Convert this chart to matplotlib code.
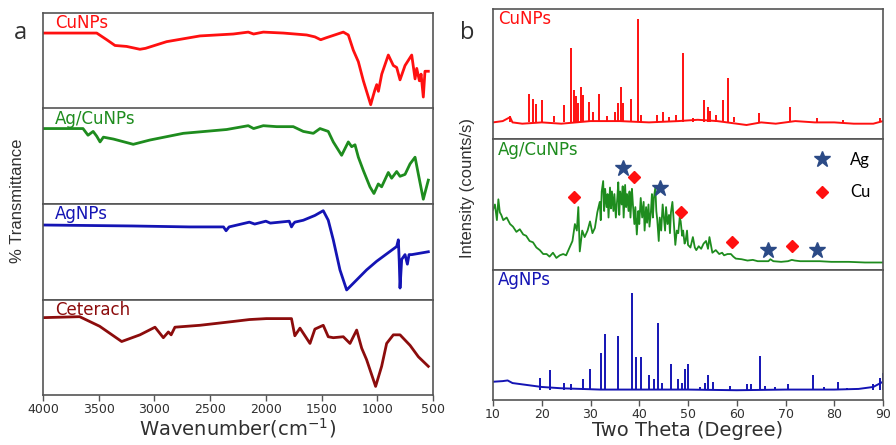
import matplotlib
matplotlib.use("Agg")
import matplotlib.pyplot as plt
from matplotlib.lines import Line2D

plt.rcParams["font.family"] = ["DejaVu Sans"]

# ---- FTIR (panel a): wavenumber / relative transmittance per sub-panel ----
cu_ftir_w = [4000, 3518, 3428, 3354, 3250, 3130, 3080, 2890, 2591, 2292, 2158, 2110, 2023,
             1843, 1634, 1560, 1508, 1460, 1305, 1260, 1215, 1170, 1125, 1059, 1040, 1020,
             1005, 990, 960, 901, 856, 826, 796, 751, 691, 661, 646, 622, 607, 587, 572, 542]
cu_ftir_t = [0.79, 0.79, 0.72, 0.66, 0.65, 0.62, 0.63, 0.70, 0.76, 0.78, 0.80, 0.78, 0.80,
             0.79, 0.77, 0.75, 0.72, 0.74, 0.80, 0.77, 0.61, 0.49, 0.29, 0.04, 0.12, 0.20,
             0.25, 0.18, 0.36, 0.56, 0.45, 0.43, 0.30, 0.45, 0.56, 0.31, 0.42, 0.29, 0.36,
             0.12, 0.39, 0.39]

agcu_ftir_w = [4000, 3641, 3596, 3550, 3518, 3488, 3458, 3368, 3190, 3040, 2741, 2352, 2158,
               2110, 2023, 1903, 1754, 1664, 1574, 1514, 1440, 1395, 1320, 1260, 1230, 1200,
               1170, 1125, 1066, 1030, 991, 961, 901, 871, 826, 796, 751, 706, 661, 631, 587, 542]
agcu_ftir_t = [0.79, 0.79, 0.72, 0.76, 0.71, 0.65, 0.70, 0.68, 0.625, 0.67, 0.74, 0.78, 0.82,
               0.79, 0.82, 0.81, 0.81, 0.76, 0.74, 0.79, 0.76, 0.65, 0.51, 0.65, 0.60, 0.62,
               0.49, 0.35, 0.18, 0.11, 0.21, 0.18, 0.33, 0.27, 0.34, 0.29, 0.31, 0.42, 0.49,
               0.31, 0.05, 0.25]

ag_ftir_w = [4000, 3200, 2685, 2380, 2357, 2330, 2148, 2100, 2000, 1960, 1790, 1770, 1755,
             1740, 1664, 1560, 1485, 1440, 1395, 1335, 1275, 1215, 1096, 1006, 826, 811,
             803, 796, 781, 751, 730, 715, 690, 542]
ag_ftir_t = [0.78, 0.77, 0.76, 0.76, 0.72, 0.76, 0.81, 0.79, 0.82, 0.80, 0.82, 0.76, 0.79,
             0.81, 0.83, 0.88, 0.93, 0.83, 0.625, 0.31, 0.10, 0.17, 0.31, 0.40, 0.555, 0.625,
             0.40, 0.12, 0.42, 0.47, 0.37, 0.47, 0.47, 0.50]

cet_ftir_w = [4000, 3671, 3492, 3294, 3130, 2995, 2920, 2875, 2850, 2816, 2591, 2292, 2148,
              1995, 1770, 1740, 1694, 1604, 1560, 1485, 1440, 1395, 1305, 1245, 1185, 1140,
              1096, 1015, 961, 916, 856, 796, 706, 631, 542]
cet_ftir_t = [0.81, 0.82, 0.72, 0.56, 0.63, 0.71, 0.60, 0.66, 0.63, 0.71, 0.73, 0.77, 0.79,
              0.80, 0.80, 0.62, 0.70, 0.54, 0.69, 0.73, 0.61, 0.60, 0.61, 0.54, 0.68, 0.49,
              0.37, 0.09, 0.30, 0.54, 0.63, 0.63, 0.52, 0.40, 0.30]

# ---- XRD (panel b): two theta / relative intensity per sub-panel ----
cu_xrd_base_x = [10, 12, 13.5, 14, 16, 20, 24, 30, 36, 42, 48, 52, 56, 60, 62, 65, 68, 72, 76, 80, 84, 88, 90]
cu_xrd_base_y = [0.13, 0.14, 0.17, 0.13, 0.12, 0.13, 0.12, 0.14, 0.14, 0.13, 0.14, 0.15, 0.14, 0.12,
                 0.11, 0.13, 0.12, 0.14, 0.13, 0.13, 0.12, 0.12, 0.14]
cu_peak_x = [13.5, 17.4, 18.3, 18.8, 20.0, 22.5, 24.6, 26.1, 26.6, 27.0, 27.5, 28.0, 28.5, 29.7,
             30.5, 31.8, 33.3, 35.0, 35.7, 36.2, 36.7, 38.4, 39.8, 40.4, 43.6, 44.8, 46.1, 47.5,
             49.0, 51.0, 53.3, 54.1, 54.6, 55.8, 57.2, 58.3, 59.4, 64.6, 70.9, 76.4, 81.8, 89.3]
cu_peak_y = [0.18, 0.35, 0.31, 0.27, 0.30, 0.18, 0.26, 0.70, 0.38, 0.33, 0.28, 0.40, 0.34, 0.29,
             0.21, 0.35, 0.18, 0.21, 0.28, 0.40, 0.28, 0.31, 0.92, 0.19, 0.19, 0.21, 0.17, 0.19,
             0.66, 0.16, 0.30, 0.25, 0.22, 0.19, 0.30, 0.47, 0.17, 0.20, 0.25, 0.16, 0.15, 0.16]

agcu_xrd_x = [10, 10.4, 10.8, 11.1, 11.4, 11.7, 12.1, 12.8, 13.5, 14.1, 14.8, 15.5, 16.2, 16.8,
              17.5, 18.2, 18.9, 19.6, 20.3, 21.0, 21.6, 22.3, 23.0, 23.7, 24.4, 25.0, 25.7,
              26.3, 26.8, 27.2, 27.5, 27.8, 28.3, 28.8, 29.4, 29.9, 30.4, 30.9, 31.4, 31.9,
              32.1, 32.3, 32.6, 32.8, 33.0, 33.3, 33.5, 33.7, 34.0, 34.2, 34.4, 34.7, 34.9,
              35.2, 35.5, 35.7, 35.9, 36.1, 36.4, 36.6, 36.8, 37.1, 37.3, 37.5, 37.8, 38.0,
              38.2, 38.5, 38.7, 39.0, 39.2, 39.5, 39.8, 40.0, 40.3, 40.6, 40.9, 41.1, 41.4,
              41.6, 41.9, 42.1, 42.4, 42.6, 42.8, 43.0, 43.3, 43.5, 43.7, 44.0, 44.2, 44.5,
              44.8, 45.0, 45.3, 45.5, 45.8, 46.1, 46.3, 46.5, 46.8, 47.1, 47.4, 47.7, 48.0,
              48.3, 48.5, 48.8, 49.0, 49.3, 49.5, 49.8, 50.0, 50.5, 51.0, 51.4, 51.7, 52.2,
              52.7, 53.2, 53.7, 54.1, 54.4, 55.0, 55.7, 56.4, 57.0, 57.4, 58.1, 58.8, 59.3,
              59.8, 61.0, 62.2, 63.3, 64.3, 65.5, 66.5, 66.9, 67.5, 69.1, 70.5, 71.3, 71.9,
              73.0, 74.6, 77.0, 79.4, 83.0, 86.3, 90]
agcu_xrd_y = [0.46, 0.50, 0.38, 0.54, 0.44, 0.42, 0.38, 0.40, 0.35, 0.33, 0.29, 0.31, 0.27, 0.26,
              0.22, 0.21, 0.17, 0.15, 0.12, 0.12, 0.10, 0.13, 0.09, 0.11, 0.12, 0.11, 0.17,
              0.22, 0.35, 0.30, 0.48, 0.14, 0.30, 0.25, 0.30, 0.37, 0.28, 0.32, 0.44, 0.52,
              0.38, 0.60, 0.68, 0.45, 0.62, 0.48, 0.58, 0.40, 0.63, 0.47, 0.60, 0.45, 0.58,
              0.40, 0.55, 0.67, 0.42, 0.60, 0.50, 0.64, 0.40, 0.65, 0.48, 0.58, 0.45, 0.60,
              0.40, 0.62, 0.50, 0.35, 0.48, 0.27, 0.45, 0.35, 0.55, 0.40, 0.52, 0.30, 0.48,
              0.36, 0.50, 0.33, 0.45, 0.58, 0.40, 0.55, 0.63, 0.45, 0.38, 0.22, 0.40, 0.30,
              0.50, 0.42, 0.30, 0.48, 0.35, 0.42, 0.28, 0.44, 0.52, 0.35, 0.19, 0.30, 0.28,
              0.40, 0.37, 0.26, 0.30, 0.20, 0.22, 0.30, 0.19, 0.17, 0.25, 0.17, 0.15, 0.18,
              0.16, 0.20, 0.22, 0.16, 0.25, 0.13, 0.15, 0.12, 0.13, 0.11, 0.12, 0.12, 0.10,
              0.085, 0.08, 0.07, 0.075, 0.065, 0.065, 0.065, 0.08, 0.065, 0.06, 0.065, 0.075, 0.07,
              0.065, 0.065, 0.065, 0.06, 0.06, 0.055, 0.055]

ag_xrd_base_x = [10, 12, 13, 14, 16, 18, 20, 24, 28, 32, 40, 50, 60, 70, 80, 85, 88, 90]
ag_xrd_base_y = [0.14, 0.145, 0.15, 0.13, 0.12, 0.11, 0.10, 0.09, 0.085, 0.08, 0.08, 0.08, 0.075,
                 0.08, 0.08, 0.085, 0.10, 0.14]
ag_peak_x = [19.6, 21.7, 24.5, 26.0, 28.4, 29.8, 32.1, 33.0, 35.7, 38.5, 39.3, 40.4, 41.9, 43.0,
             43.8, 44.6, 46.5, 48.0, 48.7, 49.4, 49.9, 52.5, 53.4, 54.0, 55.2, 58.7, 62.2, 63.0,
             64.8, 65.8, 67.9, 70.6, 75.6, 77.8, 80.7, 82.6, 88.0, 89.3, 90.0]
ag_peak_y = [0.17, 0.23, 0.13, 0.12, 0.16, 0.24, 0.36, 0.51, 0.49, 0.82, 0.33, 0.33, 0.19, 0.16,
             0.59, 0.13, 0.28, 0.16, 0.13, 0.24, 0.28, 0.10, 0.13, 0.19, 0.14, 0.11, 0.12, 0.12,
             0.34, 0.11, 0.10, 0.12, 0.19, 0.10, 0.14, 0.09, 0.12, 0.17, 0.21]

# phase markers on Ag/CuNPs pattern
ag_mark_x = [36.6, 44.3, 66.5, 76.5]
ag_mark_y = [0.78, 0.63, 0.15, 0.15]
cu_mark_x = [26.6, 38.9, 48.5, 59.0, 71.3]
cu_mark_y = [0.56, 0.71, 0.44, 0.21, 0.18]

RED = "#ff1010"
GREEN = "#1e8c1e"
BLUE = "#1414b4"
DARKRED = "#8c0c0c"
STAR = "#2b4a86"
FRAME = "#555555"
TXT = "#303030"

fig = plt.figure(figsize=(8.96, 4.45), dpi=100)


def style(ax, bottom):
    for s in ax.spines.values():
        s.set_color(FRAME)
        s.set_linewidth(1.2)
    ax.set_yticks([])
    ax.set_ylim(0, 1)
    if bottom:
        ax.tick_params(axis="x", direction="out", length=4, width=1, color=FRAME,
                       labelsize=9, labelcolor=TXT, pad=2)
    else:
        ax.tick_params(axis="x", bottom=False, labelbottom=False)


# ---- panel a ----
ftir = [("CuNPs", cu_ftir_w, cu_ftir_t, RED),
        ("Ag/CuNPs", agcu_ftir_w, agcu_ftir_t, GREEN),
        ("AgNPs", ag_ftir_w, ag_ftir_t, BLUE),
        ("Ceterach", cet_ftir_w, cet_ftir_t, DARKRED)]
left, width = 43 / 896, 390 / 896
top_a, bot_a = 1 - 13 / 445, 1 - 395 / 445
h_a = (top_a - bot_a) / 4
for i, (name, w, t, c) in enumerate(ftir):
    ax = fig.add_axes([left, top_a - (i + 1) * h_a, width, h_a])
    ax.plot(w, t, color=c, lw=2.0, solid_joinstyle="round")
    ax.set_xlim(4000, 500)
    ax.text(0.03, 0.985, name, transform=ax.transAxes, color=c, fontsize=12,
            ha="left", va="top")
    style(ax, i == 3)
    if i == 3:
        ax.set_xticks(range(4000, 499, -500))
        ax.set_xlabel("Wavenumber(cm$^{-1}$)", fontsize=14, color=TXT, labelpad=0)

fig.text(0.0195, 0.548, "% Transmittance", rotation=90, ha="center", va="center",
         fontsize=12, color=TXT, family=["Liberation Sans", "DejaVu Sans"])
fig.text(0.023, 0.925, "a", fontsize=17, color=TXT, family=["Open Sans", "DejaVu Sans"],
         ha="center", va="center")

# ---- panel b ----
left_b = 493 / 896
top_b, bot_b = 1 - 9 / 445, 1 - 400 / 445
h_b = (top_b - bot_b) / 3

ax1 = fig.add_axes([left_b, top_b - h_b, width, h_b])
ax1.plot(cu_xrd_base_x, cu_xrd_base_y, color=RED, lw=1.4)
ax1.vlines(cu_peak_x, 0.13, cu_peak_y, color=RED, lw=1.4)

ax2 = fig.add_axes([left_b, top_b - 2 * h_b, width, h_b])
ax2.plot(agcu_xrd_x, agcu_xrd_y, color=GREEN, lw=1.3)
ax2.plot(ag_mark_x, ag_mark_y, ls="none", marker="*", ms=12, color=STAR)
ax2.plot(cu_mark_x, cu_mark_y, ls="none", marker="D", ms=6, color=RED)
handles = [Line2D([], [], ls="none", marker="*", ms=12, color=STAR),
           Line2D([], [], ls="none", marker="D", ms=6, color=RED)]
ax2.legend(handles, ["Ag", "Cu"], loc="upper right", frameon=False,
           labelspacing=1.0, handletextpad=0.7, borderaxespad=0.35,
           bbox_to_anchor=(1.0, 1.0), prop={"family": ["Lato", "DejaVu Sans"], "size": 12})

ax3 = fig.add_axes([left_b, bot_b, width, h_b])
ax3.plot(ag_xrd_base_x, ag_xrd_base_y, color=BLUE, lw=1.4)
ax3.vlines(ag_peak_x, 0.08, ag_peak_y, color=BLUE, lw=1.4)

for i, (ax, name, c) in enumerate([(ax1, "CuNPs", RED), (ax2, "Ag/CuNPs", GREEN),
                                   (ax3, "AgNPs", BLUE)]):
    ax.set_xlim(10, 90)
    ax.text(0.012, 0.99, name, transform=ax.transAxes, color=c, fontsize=12,
            ha="left", va="top")
    style(ax, i == 2)
ax3.set_xticks(range(10, 91, 10))
ax3.set_xlabel("Two Theta (Degree)", fontsize=14, color=TXT, labelpad=0)

fig.text(0.522, 0.578, "Intensity (counts/s)", rotation=90, ha="center", va="center",
         fontsize=12, color=TXT, family=["Liberation Sans", "DejaVu Sans"])
fig.text(0.521, 0.925, "b", fontsize=17, color=TXT, family=["Open Sans", "DejaVu Sans"],
         ha="center", va="center")

fig.savefig("out.png", dpi=100)
